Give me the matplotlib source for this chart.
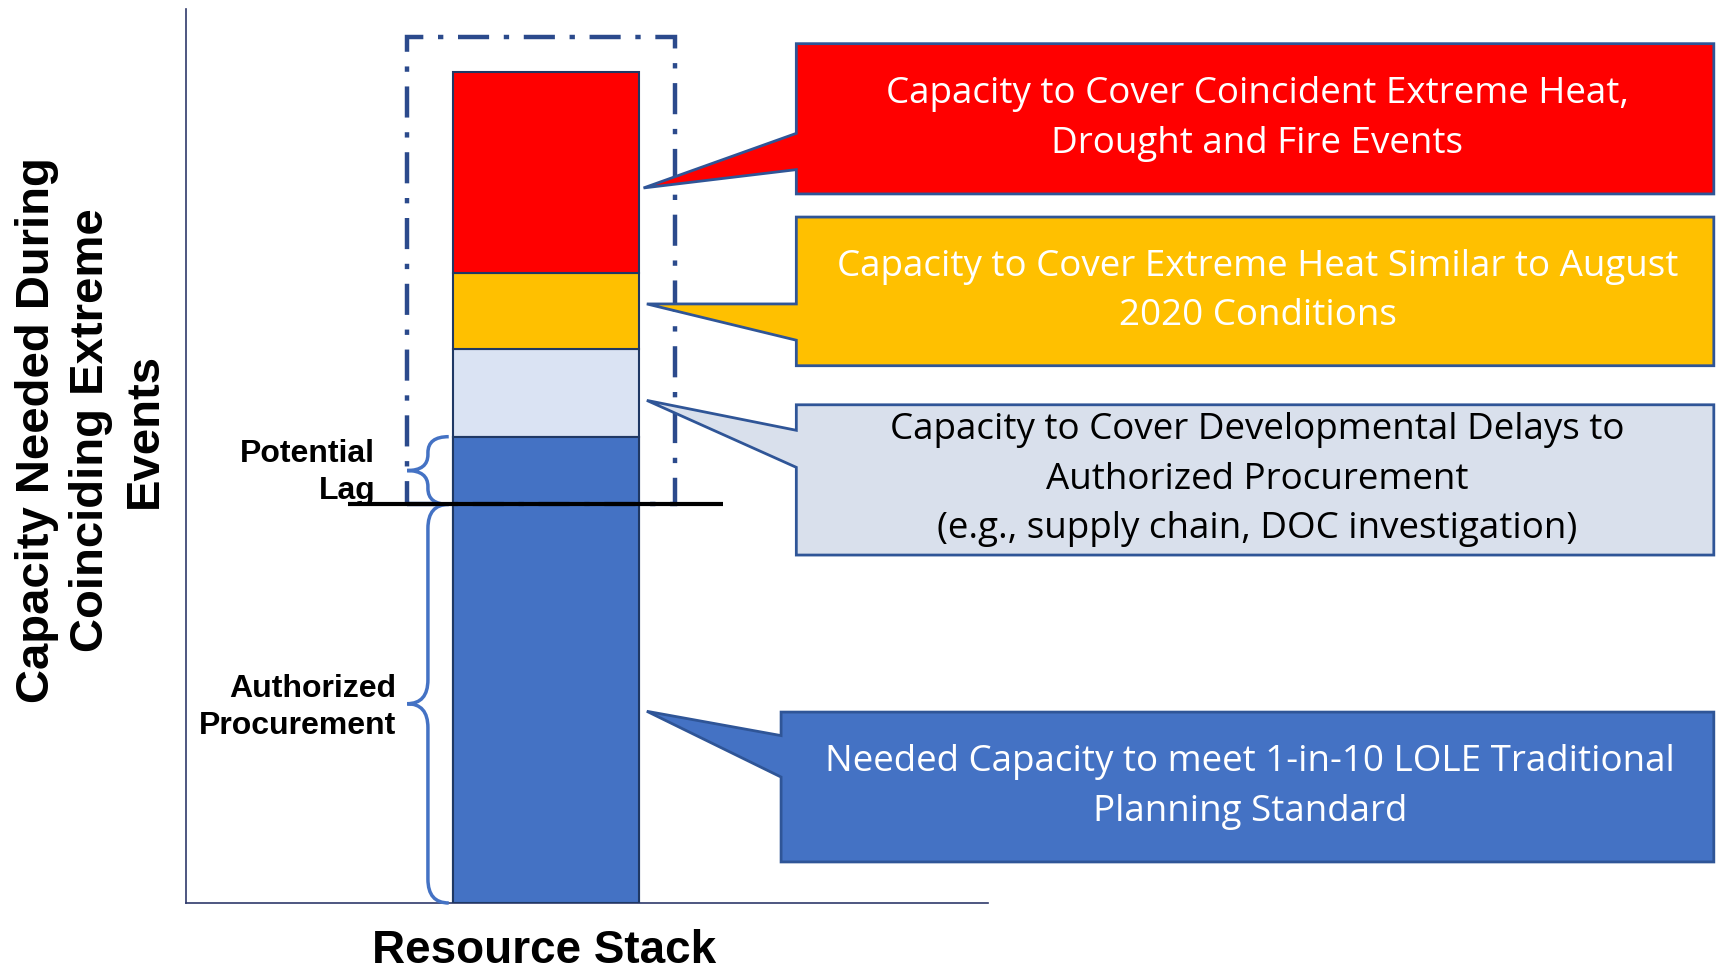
import matplotlib.pyplot as plt
from matplotlib.patches import Polygon, Rectangle, PathPatch
from matplotlib.path import Path

# stack segments, bottom to top (arbitrary capacity units)
segments = ["Authorized Procurement", "Potential Lag", "Developmental Delays",
            "Extreme Heat Aug 2020", "Coincident Extreme Events"]
heights = [100, 17, 22, 19, 50.5]
seg_colors = ["#4472C4", "#4472C4", "#DAE3F3", "#FFC000", "#FF0000"]

callout_texts = [
    "Capacity to Cover Coincident Extreme Heat,\nDrought and Fire Events",
    "Capacity to Cover Extreme Heat Similar to August\n2020 Conditions",
    "Capacity to Cover Developmental Delays to\nAuthorized Procurement\n(e.g., supply chain, DOC investigation)",
    "Needed Capacity to meet 1-in-10 LOLE Traditional\nPlanning Standard",
]
callout_fill = ["#FF0000", "#FFC000", "#D9E0EC", "#4472C4"]
callout_textcolor = ["white", "white", "black", "white"]

plt.rcParams['font.family'] = ['Liberation Sans', 'DejaVu Sans']

fig = plt.figure(figsize=(17.16, 9.75), dpi=100)
ax = fig.add_axes([186/1716, 72/975, 802/1716, 894/975])
ax.set_xlim(0, 1)
ax.set_ylim(0, 224.3)
for s in ['top', 'right']:
    ax.spines[s].set_visible(False)
for s in ['left', 'bottom']:
    ax.spines[s].set_color('#2F3A6B')
    ax.spines[s].set_linewidth(1.2)
ax.set_xticks([])
ax.set_yticks([])

bar_x = 0.449
bar_w = 0.232
bottoms = [sum(heights[:i]) for i in range(len(heights))]
ax.bar([bar_x]*len(heights), heights, bottom=bottoms, width=bar_w,
       color=seg_colors, edgecolor='#1F3864', linewidth=1.5, zorder=3)
ax.bar(bar_x, heights[0] + heights[1], width=bar_w, color=seg_colors[0],
       edgecolor='#1F3864', linewidth=1.5, zorder=3)

authorized = heights[0]

# dash-dot box around the uncertain part
box = Rectangle((0.2757, authorized), 0.610 - 0.2757, 217.3 - authorized,
                fill=False, edgecolor='#2B4A8C', linewidth=3.2,
                linestyle=(0, (7, 3.3, 1.2, 3.3)), zorder=4, clip_on=False)
ax.add_patch(box)

# procurement line
ax.plot([0.202, 0.669], [authorized, authorized], color='black', lw=3, zorder=6,
        solid_capstyle='butt')


def brace(x_tip, x_end, y0, y1, r):
    xm = (x_tip + x_end) / 2
    ym = (y0 + y1) / 2
    verts = [(x_end, y0), (xm, y0), (xm, y0 + r),
             (xm, ym - r), (xm, ym), (x_tip, ym),
             (xm, ym), (xm, ym + r),
             (xm, y1 - r), (xm, y1), (x_end, y1)]
    codes = [Path.MOVETO, Path.CURVE3, Path.CURVE3,
             Path.LINETO, Path.CURVE3, Path.CURVE3,
             Path.CURVE3, Path.CURVE3,
             Path.LINETO, Path.CURVE3, Path.CURVE3]
    ax.add_patch(PathPatch(Path(verts, codes), fill=False, edgecolor='#4472C4',
                           lw=2.5, zorder=5, clip_on=False))


brace(0.2757, 0.3276, authorized, authorized + heights[1], 4)
brace(0.2757, 0.3276, 0, authorized, 6)

ax.text(0.236, authorized + heights[1] / 2 - 0.5, "Potential\nLag", ha='right',
        va='center', fontsize=23, fontweight='bold', linespacing=1.3)
ax.text(0.262, authorized / 2 - 1, "Authorized\nProcurement", ha='right', va='center',
        fontsize=23, fontweight='bold', linespacing=1.3)

# callouts: box (left, bottom, top), pointer tip and wedge base on the box edge
box_left = [0.761, 0.761, 0.761, 0.742]
box_bottom = [177.9, 134.8, 87.3, 10.3]
box_top = [215.6, 172.1, 125.0, 47.9]
tips = [(0.5705, 179.4), (0.5746, 150.3), (0.5746, 126.1), (0.5746, 48.1)]
base_lo = [184.0, 141.2, 109.3, 31.6]
base_hi = [193.1, 150.3, 118.6, 42.0]
box_right = 1.905

for i in range(4):
    L = box_left[i]
    pts = [(L, box_bottom[i]), (L, base_lo[i]), tips[i], (L, base_hi[i]),
           (L, box_top[i]), (box_right, box_top[i]), (box_right, box_bottom[i])]
    ax.add_patch(Polygon(pts, closed=True, facecolor=callout_fill[i],
                         edgecolor='#2F5597', lw=2, zorder=7, clip_on=False))
    ax.text((L + box_right) / 2 + 0.003, (box_bottom[i] + box_top[i]) / 2,
            callout_texts[i], ha='center', va='center', fontsize=26.5,
            family=['Open Sans', 'DejaVu Sans'], color=callout_textcolor[i],
            linespacing=1.5, zorder=8, clip_on=False)

fig.text(91/1716, 1 - 430/975, "Capacity Needed During\nCoinciding Extreme\nEvents",
         rotation=90, ha='center', va='center', fontsize=34, fontweight='bold',
         linespacing=1.3)
fig.text(544/1716, 1 - 951/975, "Resource Stack", ha='center', va='center',
         fontsize=33, fontweight='bold')

fig.savefig('out.png', dpi=100)
